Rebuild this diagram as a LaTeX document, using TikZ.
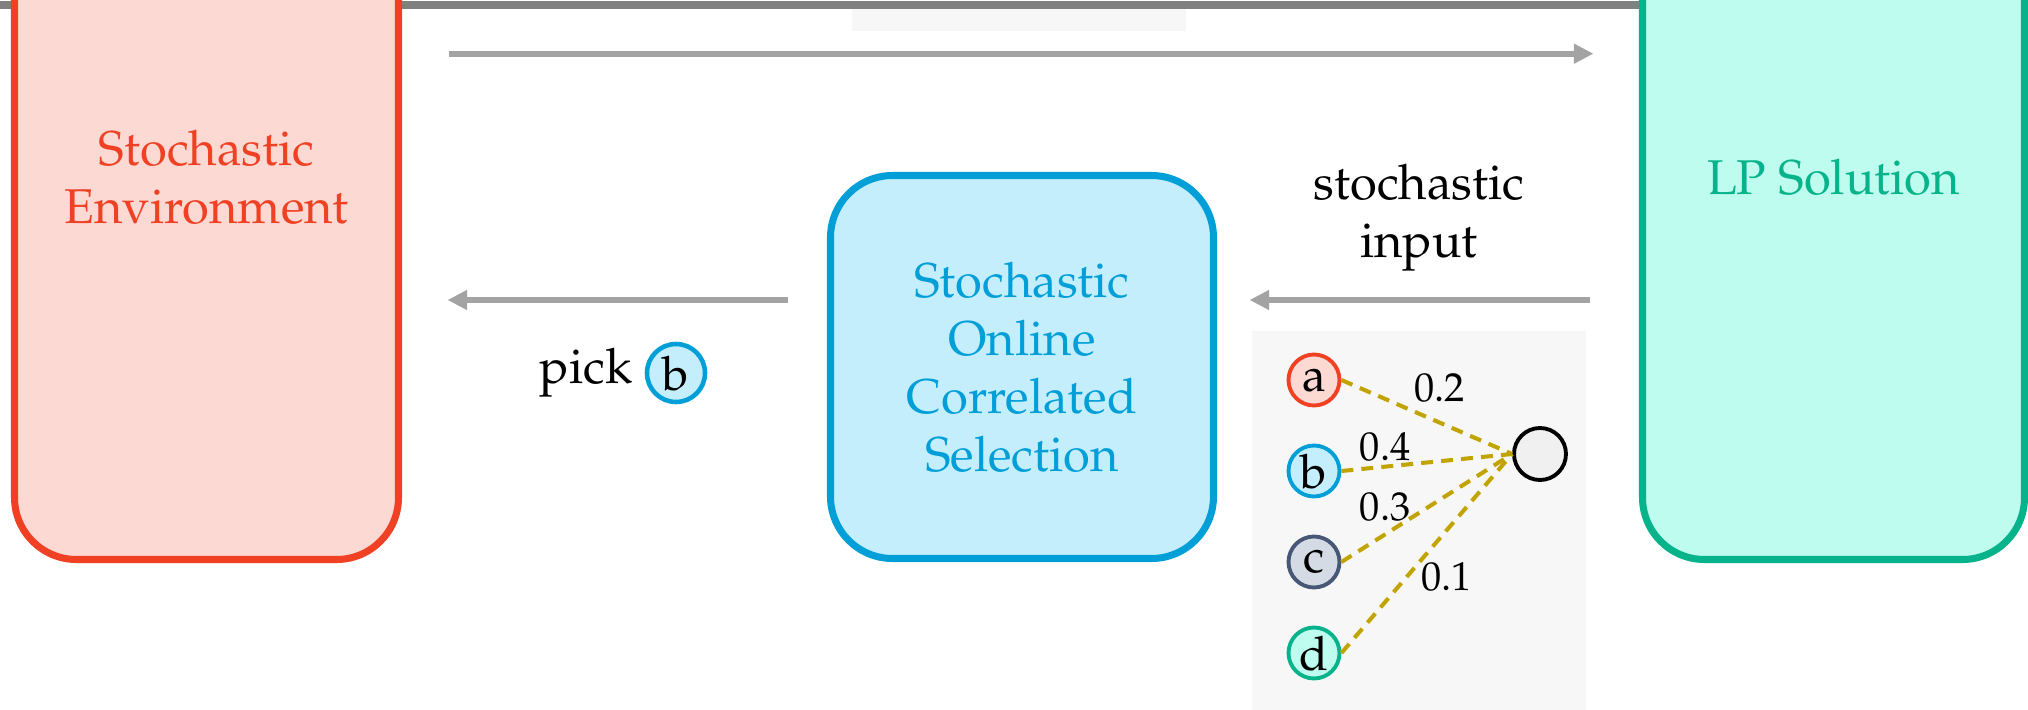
\documentclass[tikz,border=0pt]{standalone}
\usepackage[T1]{fontenc}
\usepackage{mathpazo}
\usetikzlibrary{arrows.meta, positioning}
\definecolor{cred}{HTML}{F04124}
\definecolor{cblue}{HTML}{009FD8}
\definecolor{cgreen}{HTML}{06B38B}
\definecolor{cslate}{HTML}{475776}
\definecolor{cgray}{HTML}{A3A3A3}
\definecolor{cgold}{HTML}{C2A400}
\definecolor{lightred}{HTML}{FCD9D3}
\definecolor{lightblue}{HTML}{C5EEFD}
\definecolor{lightgreen}{HTML}{BDFCEE}
\definecolor{lightslate}{HTML}{D5DBE5}
\definecolor{panelgray}{HTML}{F7F7F7}
\definecolor{bargray}{HTML}{808080}

\begin{document}
\begin{tikzpicture}[
  stage/.style={draw, line width=2pt, rounded corners=0.62cm, align=center, font=\fontsize{13.9}{16.5}\selectfont},
  flow/.style={-{Triangle[length=5.6pt, width=5.4pt]}, draw=cgray, line width=1.7pt},
  item/.style={circle, draw, line width=1.1pt, minimum size=0.51cm, inner sep=0pt, font=\fontsize{13.5}{14}\selectfont},
  link/.style={draw=cgold, line width=1.15pt, dash pattern=on 3.4pt off 2.3pt},
  wt/.style={font=\fontsize{11.5}{12}\selectfont, inner sep=0pt},
  lbl/.style={align=center, font=\fontsize{13.9}{16.5}\selectfont}
]
  \useasboundingbox (0,0) rectangle (20.28,-7.10);
  \clip (0,0) rectangle (20.28,-7.10);

  % top rule and the blank tab under it
  \fill[panelgray] (8.52,-0.05) rectangle (11.86,-0.31);
  \fill[bargray] (0,-0.01) rectangle (20.28,-0.09);

  % Stochastic Environment (runs off the top)
  \node[stage, fill=lightred, draw=cred, text=cred, minimum width=3.84cm, minimum height=7.65cm] (env) at (2.065,-1.77) {Stochastic\\Environment};

  % LP Solution (runs off the top)
  \node[stage, fill=lightgreen, draw=cgreen, text=cgreen, minimum width=3.82cm, minimum height=7.65cm] (lp) at (18.335,-1.77) {LP Solution};

  % SOCS
  \node[stage, fill=lightblue, draw=cblue, text=cblue, minimum width=3.83cm, minimum height=3.83cm] (socs) at (10.22,-3.67) {Stochastic\\Online\\Correlated\\Selection};

  % arrows between the stages
  \draw[flow, shorten <=0.465cm, shorten >=0.455cm] ([yshift=1.233cm]env.east) -- ([yshift=1.233cm]lp.west);
  \draw[flow, shorten <=0.385cm, shorten >=0.455cm] ([yshift=0.67cm]socs.west) -- ([yshift=0.67cm]socs.west -| env.east);
  \draw[flow, shorten <=0.485cm, shorten >=0.325cm] ([yshift=0.67cm]socs.east -| lp.west) -- ([yshift=0.67cm]socs.east);

  % labels on the arrows
  \node[lbl] (input) at (14.19,-2.18) {stochastic\\input};
  \node[item, fill=lightblue, draw=cblue, line width=1.3pt, minimum size=0.58cm] (pb) at (6.76,-3.73) {b};
  \node[lbl, left=0pt of pb] (pick) {pick};

  % the stochastic input: a small star
  \fill[panelgray] (12.52,-3.31) rectangle (15.86,-7.2);
  \node[item, fill=lightred, draw=cred] (a) at (13.14,-3.80) {a};
  \node[item, fill=lightblue, draw=cblue] (b) at (13.14,-4.71) {b};
  \node[item, fill=lightslate, draw=cslate] (c) at (13.14,-5.62) {c};
  \node[item, fill=lightgreen, draw=cgreen] (d) at (13.14,-6.53) {d};
  \node[item, fill=black!6, draw=black, minimum size=0.52cm] (t) at (15.40,-4.54) {};

  \draw[link] (a.east) -- (t.west) node[wt, pos=0.575, yshift=0.35cm] (wa) {0.2};
  \draw[link] (b.east) -- (t.west) node[wt, pos=0.256, yshift=0.20cm] (wb) {0.4};
  \draw[link] (c.east) -- (t.west) node[wt, pos=0.256, yshift=0.27cm] (wc) {0.3};
  \draw[link] (d.east) -- (t.west) node[wt, pos=0.616, yshift=-0.47cm] (wd) {0.1};

\end{tikzpicture}
\end{document}
